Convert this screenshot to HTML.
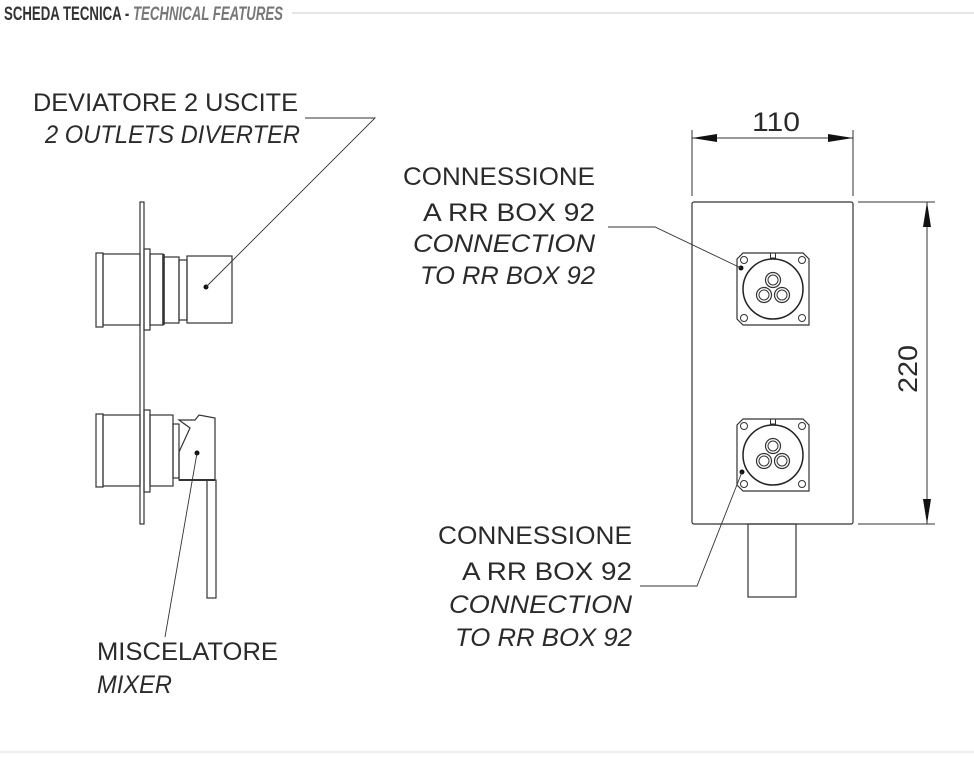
<!DOCTYPE html>
<html><head><meta charset="utf-8"><style>
html,body{margin:0;padding:0;background:#fff;}
svg{display:block;}
text{font-family:"Liberation Sans",sans-serif;fill:#2a2a2a;}
</style></head><body>
<svg width="974" height="760" viewBox="0 0 974 760" xmlns="http://www.w3.org/2000/svg">
<defs>
<g id="fit">
 <path d="M-30,-36 L30,-36 L36,-30 L36,36 L30,36 L-30,36 L-36,30 L-36,-30 Z" fill="none" stroke="#333" stroke-width="1.2"/>
 <circle cx="-29" cy="-29" r="3.5" fill="none" stroke="#333" stroke-width="1"/>
 <circle cx="29" cy="-29" r="3.5" fill="none" stroke="#333" stroke-width="1"/>
 <circle cx="-29" cy="29" r="3.5" fill="none" stroke="#333" stroke-width="1"/>
 <circle cx="29" cy="29" r="3.5" fill="none" stroke="#333" stroke-width="1"/>
 <circle cx="0" cy="0" r="30" fill="none" stroke="#222" stroke-width="1.5"/>
 <rect x="-2.5" y="-36" width="5" height="5" fill="none" stroke="#333" stroke-width="1"/>
 <circle cx="0" cy="-9" r="7.5" fill="none" stroke="#333" stroke-width="1.2"/>
 <circle cx="0" cy="-9" r="5" fill="none" stroke="#333" stroke-width="1"/>
 <circle cx="-9" cy="6" r="7.5" fill="none" stroke="#333" stroke-width="1.2"/>
 <circle cx="-9" cy="6" r="5" fill="none" stroke="#333" stroke-width="1"/>
 <circle cx="9" cy="6" r="7.5" fill="none" stroke="#333" stroke-width="1.2"/>
 <circle cx="9" cy="6" r="5" fill="none" stroke="#333" stroke-width="1"/>
</g>
</defs>
<!-- header -->
<text x="4" y="20" textLength="279" lengthAdjust="spacingAndGlyphs" style="font-size:19px;font-weight:bold;fill:#333">SCHEDA TECNICA - <tspan style="font-style:italic;fill:#777">TECHNICAL FEATURES</tspan></text>
<line x1="292" y1="13" x2="974" y2="13" stroke="#ccc" stroke-width="1"/>
<line x1="0" y1="752" x2="974" y2="752" stroke="#ddd" stroke-width="1"/>

<g fill="none" stroke="#333" stroke-width="1.2">
<rect x="140" y="202" width="4" height="322"/>
<rect x="96" y="253" width="7" height="74"/>
<rect x="103" y="254" width="37" height="71"/>
<rect x="144" y="249" width="6" height="81"/>
<rect x="150" y="254" width="13" height="71"/>
<line x1="163.5" y1="254" x2="163.5" y2="325" stroke-width="2.5"/>
<rect x="164" y="257" width="15" height="66"/>
<rect x="179" y="260" width="8" height="60"/>
<rect x="187" y="256" width="45" height="67"/>
<rect x="96" y="414" width="7" height="73"/>
<rect x="103" y="415" width="37" height="71"/>
<rect x="144" y="410" width="6" height="82"/>
<rect x="150" y="415" width="23" height="71"/>
<rect x="173" y="424" width="6" height="54"/>
<path d="M179,420 L195,420 L199,415 L215,418 L215,480 L179,480 L179,452 L190,428 Z"/>
<line x1="179" y1="480" x2="215" y2="480" stroke-width="2"/>
<rect x="207" y="480" width="9" height="118"/>
</g>
<circle cx="206" cy="287" r="2.5" fill="#111"/>
<circle cx="197" cy="453" r="2.5" fill="#111"/>
<polyline points="206,287 375,118 305,118" fill="none" stroke="#333" stroke-width="0.9"/>
<line x1="197" y1="453" x2="165" y2="637" stroke="#333" stroke-width="0.9"/>

<text x="33" y="111" textLength="265" lengthAdjust="spacingAndGlyphs" style="font-size:25px">DEVIATORE 2 USCITE</text>
<text x="45" y="143" textLength="255" lengthAdjust="spacingAndGlyphs" style="font-size:25px;font-style:italic">2 OUTLETS DIVERTER</text>
<text x="97" y="660" textLength="181" lengthAdjust="spacingAndGlyphs" style="font-size:25px">MISCELATORE</text>
<text x="97" y="693" textLength="75" lengthAdjust="spacingAndGlyphs" style="font-size:25px;font-style:italic">MIXER</text>

<rect x="692" y="202" width="161" height="322" fill="none" stroke="#333" stroke-width="1.2" rx="2"/>
<rect x="748" y="524" width="48" height="73" fill="none" stroke="#333" stroke-width="1.2"/>
<use href="#fit" x="773" y="289"/>
<use href="#fit" x="773" y="455"/>
<circle cx="741" cy="268" r="2.5" fill="#111"/>
<circle cx="742" cy="472" r="2.5" fill="#111"/>
<polyline points="608,227 655,227 741,268" fill="none" stroke="#333" stroke-width="0.9"/>
<polyline points="742,472 697,586 640,586" fill="none" stroke="#333" stroke-width="0.9"/>

<g stroke="#333" stroke-width="1">
<line x1="692" y1="130" x2="692" y2="196"/>
<line x1="853" y1="130" x2="853" y2="196"/>
<line x1="692" y1="138" x2="853" y2="138"/>
<line x1="858" y1="202" x2="935" y2="202"/>
<line x1="858" y1="524" x2="935" y2="524"/>
<line x1="927" y1="202" x2="927" y2="524"/>
</g>
<g fill="#111">
<polygon points="692,138 717,134 717,142"/>
<polygon points="853,138 828,134 828,142"/>
<polygon points="927,202 923,227 931,227"/>
<polygon points="927,524 923,499 931,499"/>
</g>
<text x="752" y="131" textLength="48" lengthAdjust="spacingAndGlyphs" style="font-size:27px">110</text>
<text x="0" y="0" textLength="48" lengthAdjust="spacingAndGlyphs" style="font-size:27px" transform="translate(917,393) rotate(-90)">220</text>

<g style="font-size:25px">
<text x="403" y="185" textLength="192" lengthAdjust="spacingAndGlyphs">CONNESSIONE</text>
<text x="423" y="221" textLength="172" lengthAdjust="spacingAndGlyphs">A RR BOX 92</text>
<text x="413" y="252" textLength="182" lengthAdjust="spacingAndGlyphs" style="font-style:italic">CONNECTION</text>
<text x="420" y="284" textLength="175" lengthAdjust="spacingAndGlyphs" style="font-style:italic">TO RR BOX 92</text>
<text x="438" y="544" textLength="194" lengthAdjust="spacingAndGlyphs">CONNESSIONE</text>
<text x="462" y="580" textLength="170" lengthAdjust="spacingAndGlyphs">A RR BOX 92</text>
<text x="449" y="613" textLength="183" lengthAdjust="spacingAndGlyphs" style="font-style:italic">CONNECTION</text>
<text x="455" y="646" textLength="177" lengthAdjust="spacingAndGlyphs" style="font-style:italic">TO RR BOX 92</text>
</g>
</svg>
</body></html>
